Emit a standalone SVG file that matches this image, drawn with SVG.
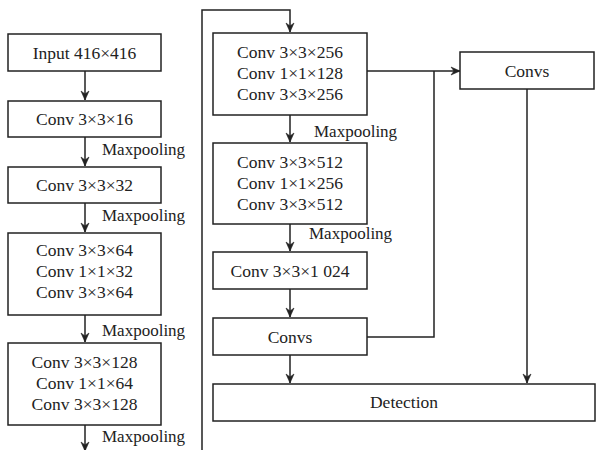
<svg xmlns="http://www.w3.org/2000/svg" width="596" height="450" viewBox="0 0 596 450">
  <style>
    .node-box { fill: #ffffff; stroke: #222222; stroke-width: 1.5; }
    .node-label { font-family: 'Liberation Serif', serif; font-size: 17.5px; fill: #222222; text-anchor: middle; }
    .pool-label { font-family: 'Liberation Serif', serif; font-size: 17px; fill: #222222; }
    .wire { fill: none; stroke: #222222; stroke-width: 1.5; }
    .wire-arrow { marker-end: url(#ah); }
  </style>
  <defs>
    <marker id="ah" viewBox="0 0 10 10" refX="10" refY="5" markerWidth="10" markerHeight="10" markerUnits="userSpaceOnUse" orient="auto">
      <path d="M1,1 L10,5 L1,9 L4,5 Z" fill="#222222" stroke="#222222" stroke-width="0.6" stroke-linejoin="miter"/>
    </marker>
  </defs>

  <rect width="596" height="450" fill="#ffffff"/>

  <!-- connectors -->
  <g id="connectors">
    <line class="wire wire-arrow" x1="85" y1="71" x2="85" y2="100"/>
    <line class="wire wire-arrow" x1="85" y1="137" x2="85" y2="166"/>
    <line class="wire wire-arrow" x1="85" y1="203" x2="85" y2="232"/>
    <line class="wire wire-arrow" x1="85" y1="315" x2="85" y2="342"/>
    <line class="wire wire-arrow" x1="85" y1="425" x2="85" y2="451"/>
    <!-- column wrap -->
    <path class="wire wire-arrow" d="M202,450 L202,10 L290,10 L290,32"/>
    <line class="wire wire-arrow" x1="290" y1="115" x2="290" y2="142"/>
    <line class="wire wire-arrow" x1="290" y1="224" x2="290" y2="251"/>
    <line class="wire wire-arrow" x1="290" y1="289" x2="290" y2="317"/>
    <line class="wire wire-arrow" x1="290" y1="355" x2="290" y2="383"/>
    <!-- branch to upper Convs -->
    <line class="wire wire-arrow" x1="367" y1="71" x2="460" y2="71"/>
    <path class="wire" d="M367,337 L434,337 L434,71"/>
    <line class="wire wire-arrow" x1="527" y1="89" x2="527" y2="383"/>
  </g>

  <!-- left column -->
  <g id="input">
    <rect class="node-box" x="8" y="34" width="153" height="37"/>
    <text class="node-label" x="84.5" y="59">Input 416×416</text>
  </g>
  <g id="conv16">
    <rect class="node-box" x="8" y="101" width="153" height="36"/>
    <text class="node-label" x="84.5" y="125">Conv 3×3×16</text>
  </g>
  <text class="pool-label" x="102" y="155">Maxpooling</text>
  <g id="conv32">
    <rect class="node-box" x="8" y="167" width="153" height="36"/>
    <text class="node-label" x="84.5" y="191">Conv 3×3×32</text>
  </g>
  <text class="pool-label" x="102" y="221">Maxpooling</text>
  <g id="conv64">
    <rect class="node-box" x="8" y="233" width="153" height="82"/>
    <text class="node-label" x="84.5" y="256">Conv 3×3×64</text>
    <text class="node-label" x="84.5" y="277">Conv 1×1×32</text>
    <text class="node-label" x="84.5" y="298">Conv 3×3×64</text>
  </g>
  <text class="pool-label" x="102" y="336">Maxpooling</text>
  <g id="conv128">
    <rect class="node-box" x="8" y="343" width="153" height="82"/>
    <text class="node-label" x="84.5" y="368">Conv 3×3×128</text>
    <text class="node-label" x="84.5" y="389">Conv 1×1×64</text>
    <text class="node-label" x="84.5" y="410">Conv 3×3×128</text>
  </g>
  <text class="pool-label" x="102" y="442">Maxpooling</text>

  <!-- middle column -->
  <g id="conv256">
    <rect class="node-box" x="213" y="33" width="154" height="82"/>
    <text class="node-label" x="290" y="58">Conv 3×3×256</text>
    <text class="node-label" x="290" y="79">Conv 1×1×128</text>
    <text class="node-label" x="290" y="100">Conv 3×3×256</text>
  </g>
  <text class="pool-label" x="314" y="137">Maxpooling</text>
  <g id="conv512">
    <rect class="node-box" x="213" y="143" width="154" height="81"/>
    <text class="node-label" x="290" y="168">Conv 3×3×512</text>
    <text class="node-label" x="290" y="189">Conv 1×1×256</text>
    <text class="node-label" x="290" y="210">Conv 3×3×512</text>
  </g>
  <text class="pool-label" x="309" y="239">Maxpooling</text>
  <g id="conv1024">
    <rect class="node-box" x="213" y="252" width="154" height="37"/>
    <text class="node-label" x="290" y="277">Conv 3×3×1 024</text>
  </g>
  <g id="convs-mid">
    <rect class="node-box" x="213" y="318" width="154" height="37"/>
    <text class="node-label" x="290" y="343">Convs</text>
  </g>
  <g id="detection">
    <rect class="node-box" x="213" y="384" width="382" height="37"/>
    <text class="node-label" x="404" y="408">Detection</text>
  </g>

  <!-- right branch -->
  <g id="convs-right">
    <rect class="node-box" x="460" y="52" width="134" height="37"/>
    <text class="node-label" x="527" y="77">Convs</text>
  </g>
</svg>
